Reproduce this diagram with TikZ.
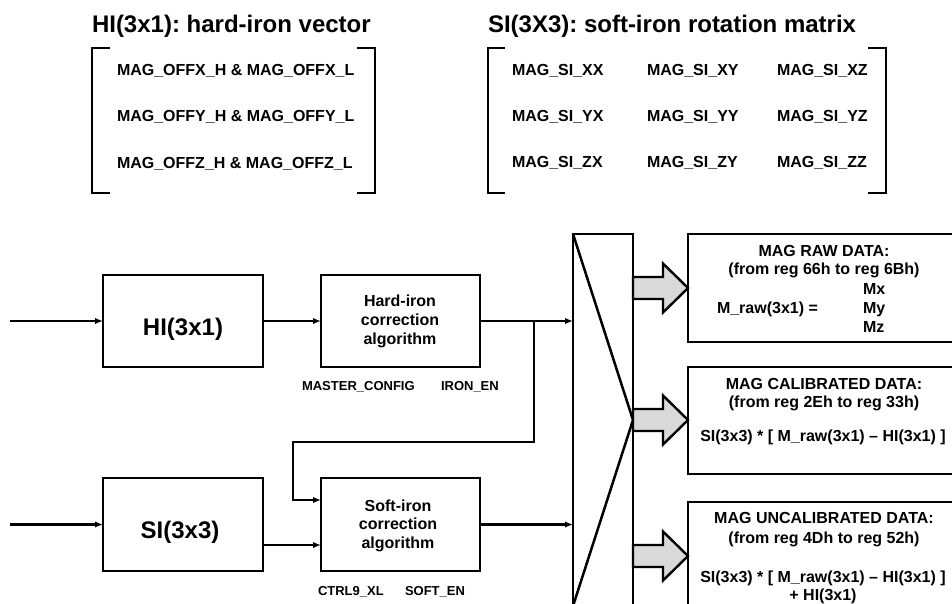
\documentclass[tikz,border=0pt]{standalone}
\usepackage{fontspec}
\setmainfont{Liberation Sans}
\usetikzlibrary{arrows.meta,calc}
\definecolor{fatgray}{HTML}{D9D9D9}
\newcommand\myfs[1]{\fontsize{#1}{#1}\selectfont\bfseries\frenchspacing}
\begin{document}
\begin{tikzpicture}[x=1pt,y=-1pt,
  every node/.style={inner sep=0pt, outer sep=0pt},
  txt/.style={anchor=base, font=\myfs{16}},
  txtl/.style={anchor=base west, font=\myfs{16}},
  ttl/.style={anchor=base west, font=\myfs{24}},
  big/.style={anchor=base, font=\myfs{24}},
  small/.style={anchor=base west, font=\myfs{13}},
  blk/.style={draw, line width=2.7pt, minimum width=160pt, minimum height=92pt},
  databox/.style={draw, line width=2.7pt, minimum width=274pt},
  conn/.style={line width=2.2pt},
  arr/.style={conn, -{Latex[length=8pt,width=6.5pt]}},
  brk/.style={line width=2.8pt},
  fat/.style={line width=2.4pt, fill=fatgray, line join=miter},
  muxline/.style={line width=2.5pt}
]
\useasboundingbox (0,0) rectangle (952,604);
\clip (0,0) rectangle (952,604);

% ---------- top: matrices ----------
\node[ttl] (hiTitle) at (92,33) {HI(3x1): hard-iron vector};
\node[ttl] (siTitle) at (488,33) {SI(3X3): soft-iron rotation matrix};

\draw[brk] (110,48) -- (92,48) -- (92,193) -- (110,193);
\draw[brk] (357,48) -- (375,48) -- (375,193) -- (357,193);
\draw[brk] (505,48) -- (488,48) -- (488,193) -- (505,193);
\draw[brk] (868,48) -- (886,48) -- (886,193) -- (868,193);

\node[txtl] (hx) at (117,75.8) {MAG\_OFFX\_H \& MAG\_OFFX\_L};
\node[txtl] (hy) at (117,121.6) {MAG\_OFFY\_H \& MAG\_OFFY\_L};
\node[txtl] (hz) at (117,168) {MAG\_OFFZ\_H \& MAG\_OFFZ\_L};

\node[txtl] (sxx) at (512,76) {MAG\_SI\_XX};
\node[txtl] (sxy) at (647,76) {MAG\_SI\_XY};
\node[txtl] (sxz) at (777,76) {MAG\_SI\_XZ};
\node[txtl] (syx) at (512,121.7) {MAG\_SI\_YX};
\node[txtl] (syy) at (647,121.7) {MAG\_SI\_YY};
\node[txtl] (syz) at (777,121.7) {MAG\_SI\_YZ};
\node[txtl] (szx) at (512,167.7) {MAG\_SI\_ZX};
\node[txtl] (szy) at (647,167.7) {MAG\_SI\_ZY};
\node[txtl] (szz) at (777,167.7) {MAG\_SI\_ZZ};

% ---------- left blocks ----------
\node[blk] (HI) at (183,321) {};
\node[big] (HIt) at (183,335) {HI(3x1)};
\node[blk, minimum width=159pt] (Hard) at (400.5,321) {};
\node[txt] (h1) at (400,306) {Hard-iron};
\node[txt] (h2) at (400,325) {correction};
\node[txt] (h3) at (400,344) {algorithm};
\node[small] (mc) at (302,390) {MASTER\_CONFIG};
\node[small] (ie) at (441,390) {IRON\_EN};

\node[blk, minimum height=93pt] (SI) at (183,524.5) {};
\node[big] (SIt) at (180,538.6) {SI(3x3)};
\node[blk, minimum width=159pt, minimum height=93pt] (Soft) at (400.5,524.5) {};
\node[txt] (s1) at (398,511.7) {Soft-iron};
\node[txt] (s2) at (398,529.7) {correction};
\node[txt] (s3) at (398,548.7) {algorithm};
\node[small] (c9) at (318,595) {CTRL9\_XL};
\node[small] (se) at (405,595) {SOFT\_EN};

% ---------- mux ----------
\node[draw, line width=2.5pt, minimum width=60pt, minimum height=372pt] (mux) at (603,420) {};
\draw[muxline, line join=miter] (mux.north west) -- (mux.east) -- (mux.south west);

% ---------- connectors ----------
\coordinate (in1) at (10,321);
\coordinate (in2) at (10,524.5);
\coordinate (j) at (534,321);
\coordinate (l2) at (293,442);
\coordinate (l3) at (293,500);
\coordinate (r2) at (0,545);

\draw[arr] (in1) -- (HI.west);
\draw[arr] (HI.east) -- (Hard.west);
\draw[arr] (Hard.east) -- (Hard.east -| mux.west);
\draw[arr] (j) |- (l2) |- (Soft.west |- l3);
\draw[arr] (in2) -- (SI.west);
\draw[arr] (SI.east |- r2) -- (Soft.west |- r2);
\draw[arr] (Soft.east) -- (Soft.east -| mux.west);

% ---------- output boxes ----------
\node[databox, minimum height=108pt] (raw) at (825,288) {};
\node[databox, minimum height=107pt] (cal) at (825,420.5) {};
\node[databox, minimum height=138pt] (unc) at (825,571) {};

\draw[fat] (633,277) -- (663,277) -- (663,263.5) -- (688,288) -- (663,312.5) -- (663,299) -- (633,299) -- cycle;
\draw[fat] (633,409) -- (663,409) -- (663,395.5) -- (688,420) -- (663,444.5) -- (663,431) -- (633,431) -- cycle;
\draw[fat] (633,545) -- (663,545) -- (663,531.5) -- (688,556) -- (663,580.5) -- (663,567) -- (633,567) -- cycle;

\node[txt] (rawT) at (824,256.5) {MAG RAW DATA:};
\node[txt] (rawR) at (824,274.7) {(from reg 66h to reg 6Bh)};
\node[txtl] (mx) at (863,294.7) {Mx};
\node[txtl] (mraw) at (717,313.7) {M\_raw(3x1) =};
\node[txtl] (my) at (863,313.7) {My};
\node[txtl] (mz) at (863,332.7) {Mz};

\node[txt] (calT) at (824,389) {MAG CALIBRATED DATA:};
\node[txt] (calR) at (824,407.4) {(from reg 2Eh to reg 33h)};
\node[txt] (calF) at (823,441.7) {SI(3x3) * [ M\_raw(3x1) – HI(3x1) ]};

\node[txt] (uncT) at (824,523) {MAG UNCALIBRATED DATA:};
\node[txt] (uncR) at (824,543) {(from reg 4Dh to reg 52h)};
\node[txt] (uncF) at (823,582.4) {SI(3x3) * [ M\_raw(3x1) – HI(3x1) ]};
\node[txt] (uncP) at (823,600.7) {+ HI(3x1)};
\end{tikzpicture}
\end{document}
